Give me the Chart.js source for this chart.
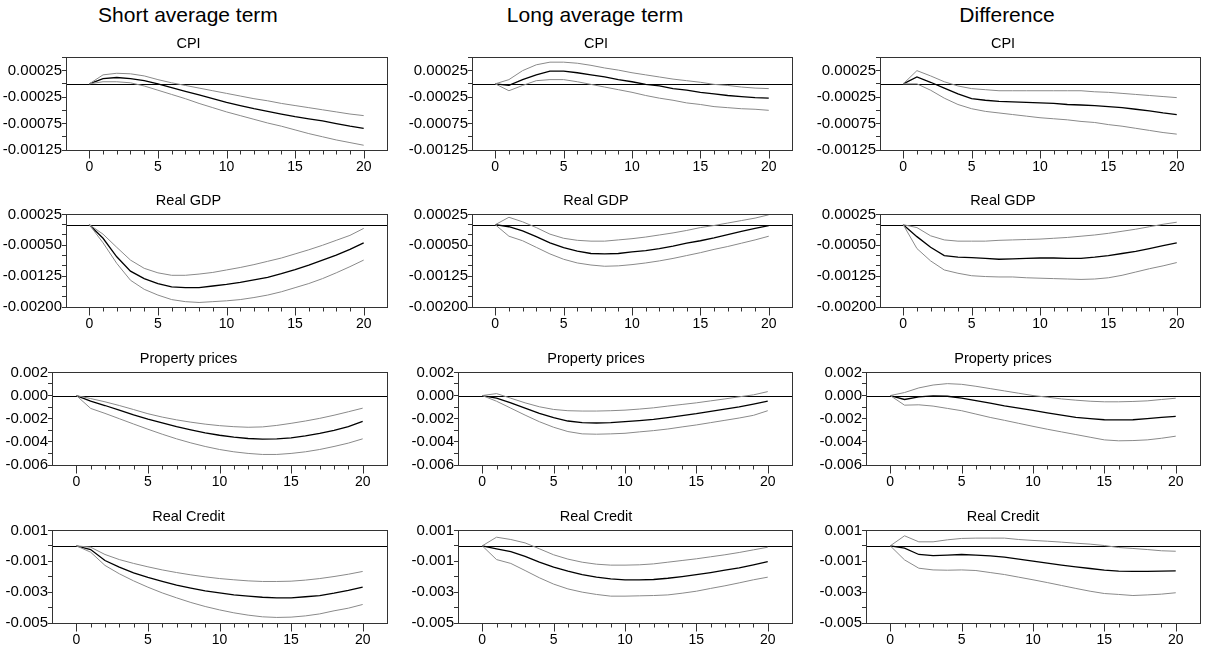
<!DOCTYPE html>
<html>
<head>
    <meta charset="utf-8">
    <title>Impulse responses</title>
    <script src="https://cdn.jsdelivr.net/npm/chart.js@4.4.1/dist/chart.umd.min.js"></script>
    <style>
        body { margin: 0; background: #fff; width: 1206px; height: 651px; position: relative; overflow: hidden; }
        .head { position: absolute; top: 3px; width: 400px; text-align: center; font: 21px "Liberation Sans", Arial, sans-serif; line-height: 24px; color: #000; }
        .panel { position: absolute; }
    </style>
</head>
<body>
<script>
// horizons and titles
const horizon = [0, 1, 2, 3, 4, 5, 6, 7, 8, 9, 10, 11, 12, 13, 14, 15, 16, 17, 18, 19, 20];
const colTitles = ['Short average term', 'Long average term', 'Difference'];
const rowTitles = ['CPI', 'Real GDP', 'Property prices', 'Real Credit'];

// y axes, one per row
const yMin = [-0.00125, -0.002, -0.006, -0.005];
const yMax = [0.0005, 0.00025, 0.002, 0.001];
const yStep = [0.00025, 0.00025, 0.001, 0.001];
const yLabelEvery = [2, 3, 2, 2];
const yDecimals = [5, 5, 3, 3];

// CPI
const shortCpi   = [0, 0.00010, 0.00012, 0.00010, 0.00006, 0.00000, -0.00007, -0.00014, -0.00021, -0.00028, -0.00035, -0.00041, -0.00047, -0.00052, -0.00057, -0.00062, -0.00066, -0.00070, -0.00075, -0.00080, -0.00084];
const shortCpiHi = [0, 0.00017, 0.00020, 0.00019, 0.00015, 0.00008, 0.00002, -0.00003, -0.00008, -0.00013, -0.00018, -0.00023, -0.00028, -0.00032, -0.00037, -0.00041, -0.00045, -0.00049, -0.00053, -0.00057, -0.00060];
const shortCpiLo = [0, 0.00004, 0.00004, 0.00002, -0.00004, -0.00012, -0.00020, -0.00028, -0.00037, -0.00045, -0.00053, -0.00060, -0.00067, -0.00074, -0.00080, -0.00087, -0.00094, -0.00100, -0.00106, -0.00111, -0.00116];
const longCpi    = [0, -0.00003, 0.00008, 0.00017, 0.00024, 0.00024, 0.00021, 0.00017, 0.00013, 0.00008, 0.00004, -0.00001, -0.00004, -0.00009, -0.00012, -0.00016, -0.00019, -0.00022, -0.00024, -0.00026, -0.00027];
const longCpiHi  = [0, 0.00008, 0.00025, 0.00036, 0.00041, 0.00041, 0.00039, 0.00035, 0.00030, 0.00026, 0.00021, 0.00017, 0.00013, 0.00009, 0.00006, 0.00003, -0.00001, -0.00003, -0.00006, -0.00008, -0.00009];
const longCpiLo  = [0, -0.00013, -0.00003, 0.00006, 0.00008, 0.00008, 0.00004, -0.00001, -0.00006, -0.00011, -0.00016, -0.00022, -0.00027, -0.00031, -0.00036, -0.00039, -0.00043, -0.00045, -0.00047, -0.00048, -0.00050];
const diffCpi    = [0, 0.00013, 0.00003, -0.00008, -0.00019, -0.00028, -0.00031, -0.00033, -0.00034, -0.00035, -0.00036, -0.00037, -0.00039, -0.00040, -0.00041, -0.00043, -0.00045, -0.00048, -0.00051, -0.00055, -0.00058];
const diffCpiHi  = [0, 0.00025, 0.00015, 0.00004, -0.00004, -0.00009, -0.00011, -0.00013, -0.00013, -0.00013, -0.00013, -0.00013, -0.00013, -0.00013, -0.00015, -0.00016, -0.00018, -0.00020, -0.00022, -0.00024, -0.00026];
const diffCpiLo  = [0, 0.00000, -0.00012, -0.00027, -0.00039, -0.00047, -0.00052, -0.00055, -0.00058, -0.00061, -0.00064, -0.00066, -0.00068, -0.00071, -0.00073, -0.00077, -0.00080, -0.00084, -0.00088, -0.00092, -0.00095];

// Real GDP
const shortGdp   = [0, -0.00033, -0.00078, -0.00113, -0.00131, -0.00143, -0.00151, -0.00153, -0.00153, -0.00149, -0.00145, -0.00140, -0.00134, -0.00128, -0.00119, -0.00109, -0.00098, -0.00086, -0.00074, -0.00060, -0.00044];
const shortGdpHi = [0, -0.00023, -0.00055, -0.00086, -0.00106, -0.00117, -0.00123, -0.00123, -0.00120, -0.00116, -0.00110, -0.00104, -0.00097, -0.00089, -0.00081, -0.00071, -0.00061, -0.00050, -0.00038, -0.00026, -0.00009];
const shortGdpLo = [0, -0.00044, -0.00094, -0.00135, -0.00157, -0.00171, -0.00182, -0.00187, -0.00189, -0.00187, -0.00185, -0.00182, -0.00177, -0.00171, -0.00163, -0.00153, -0.00143, -0.00131, -0.00117, -0.00102, -0.00086];
const longGdp    = [0, -0.00005, -0.00015, -0.00029, -0.00044, -0.00056, -0.00064, -0.00070, -0.00071, -0.00070, -0.00066, -0.00063, -0.00058, -0.00052, -0.00045, -0.00039, -0.00032, -0.00024, -0.00016, -0.00009, -0.00002];
const longGdpHi  = [0, 0.00018, 0.00007, -0.00007, -0.00023, -0.00033, -0.00038, -0.00040, -0.00040, -0.00037, -0.00034, -0.00030, -0.00025, -0.00020, -0.00014, -0.00007, -0.00002, 0.00004, 0.00010, 0.00016, 0.00024];
const longGdpLo  = [0, -0.00028, -0.00039, -0.00055, -0.00071, -0.00084, -0.00093, -0.00098, -0.00101, -0.00100, -0.00097, -0.00093, -0.00088, -0.00082, -0.00075, -0.00068, -0.00060, -0.00053, -0.00045, -0.00037, -0.00028];
const diffGdp    = [0, -0.00029, -0.00055, -0.00075, -0.00079, -0.00080, -0.00082, -0.00084, -0.00083, -0.00082, -0.00081, -0.00081, -0.00082, -0.00082, -0.00079, -0.00075, -0.00070, -0.00065, -0.00058, -0.00051, -0.00044];
const diffGdpHi  = [0, -0.00007, -0.00027, -0.00037, -0.00040, -0.00040, -0.00040, -0.00038, -0.00037, -0.00036, -0.00035, -0.00033, -0.00031, -0.00028, -0.00025, -0.00021, -0.00016, -0.00011, -0.00005, 0.00001, 0.00006];
const diffGdpLo  = [0, -0.00058, -0.00088, -0.00110, -0.00118, -0.00124, -0.00126, -0.00127, -0.00127, -0.00129, -0.00130, -0.00131, -0.00132, -0.00133, -0.00132, -0.00129, -0.00123, -0.00115, -0.00107, -0.00100, -0.00092];

// Property prices
const shortProp   = [0, -0.00049, -0.00086, -0.00126, -0.00166, -0.00203, -0.00237, -0.00269, -0.00297, -0.00323, -0.00343, -0.00360, -0.00371, -0.00377, -0.00374, -0.00366, -0.00349, -0.00326, -0.00300, -0.00269, -0.00223];
const shortPropHi = [0, -0.00026, -0.00054, -0.00086, -0.00121, -0.00157, -0.00186, -0.00210, -0.00230, -0.00247, -0.00260, -0.00269, -0.00274, -0.00271, -0.00258, -0.00240, -0.00220, -0.00197, -0.00170, -0.00140, -0.00109];
const shortPropLo = [0, -0.00111, -0.00154, -0.00200, -0.00246, -0.00291, -0.00334, -0.00374, -0.00409, -0.00440, -0.00466, -0.00486, -0.00500, -0.00509, -0.00509, -0.00500, -0.00486, -0.00466, -0.00440, -0.00411, -0.00374];
const longProp    = [0, -0.00023, -0.00063, -0.00109, -0.00154, -0.00191, -0.00220, -0.00234, -0.00237, -0.00234, -0.00226, -0.00217, -0.00206, -0.00191, -0.00174, -0.00157, -0.00137, -0.00117, -0.00097, -0.00074, -0.00049];
const longPropHi  = [0, 0.00017, -0.00023, -0.00063, -0.00097, -0.00120, -0.00131, -0.00134, -0.00134, -0.00131, -0.00126, -0.00117, -0.00106, -0.00091, -0.00077, -0.00063, -0.00046, -0.00029, -0.00011, 0.00006, 0.00034];
const longPropLo  = [0, -0.00049, -0.00109, -0.00169, -0.00226, -0.00274, -0.00311, -0.00331, -0.00334, -0.00331, -0.00326, -0.00314, -0.00303, -0.00289, -0.00271, -0.00254, -0.00234, -0.00214, -0.00194, -0.00171, -0.00131];
const diffProp    = [0, -0.00034, -0.00011, -0.00003, -0.00006, -0.00023, -0.00043, -0.00066, -0.00089, -0.00109, -0.00129, -0.00149, -0.00169, -0.00189, -0.00200, -0.00209, -0.00211, -0.00209, -0.00200, -0.00189, -0.00180];
const diffPropHi  = [0, 0.00026, 0.00066, 0.00091, 0.00103, 0.00097, 0.00080, 0.00060, 0.00040, 0.00020, 0.00000, -0.00014, -0.00029, -0.00040, -0.00049, -0.00054, -0.00054, -0.00051, -0.00046, -0.00034, -0.00023];
const diffPropLo  = [0, -0.00083, -0.00080, -0.00091, -0.00111, -0.00131, -0.00160, -0.00189, -0.00214, -0.00240, -0.00266, -0.00291, -0.00314, -0.00337, -0.00360, -0.00383, -0.00391, -0.00389, -0.00383, -0.00369, -0.00351];

// Real Credit
const shortCred   = [0, -0.00024, -0.00095, -0.00138, -0.00175, -0.00205, -0.00231, -0.00255, -0.00274, -0.00292, -0.00305, -0.00318, -0.00326, -0.00333, -0.00337, -0.00337, -0.00330, -0.00322, -0.00307, -0.00289, -0.00268];
const shortCredHi = [0, -0.00009, -0.00056, -0.00089, -0.00114, -0.00136, -0.00156, -0.00173, -0.00188, -0.00201, -0.00212, -0.00220, -0.00227, -0.00231, -0.00231, -0.00229, -0.00222, -0.00212, -0.00199, -0.00184, -0.00166];
const shortCredLo = [0, -0.00041, -0.00127, -0.00181, -0.00227, -0.00268, -0.00305, -0.00337, -0.00367, -0.00393, -0.00415, -0.00434, -0.00449, -0.00460, -0.00464, -0.00462, -0.00454, -0.00441, -0.00421, -0.00404, -0.00380];
const longCred    = [0, -0.00019, -0.00037, -0.00069, -0.00106, -0.00138, -0.00164, -0.00186, -0.00203, -0.00214, -0.00220, -0.00220, -0.00218, -0.00210, -0.00199, -0.00186, -0.00173, -0.00158, -0.00143, -0.00123, -0.00102];
const longCredHi  = [0, 0.00056, 0.00041, 0.00019, -0.00019, -0.00058, -0.00086, -0.00106, -0.00119, -0.00125, -0.00125, -0.00123, -0.00117, -0.00106, -0.00095, -0.00084, -0.00071, -0.00058, -0.00043, -0.00026, -0.00009];
const longCredLo  = [0, -0.00089, -0.00114, -0.00160, -0.00207, -0.00248, -0.00279, -0.00300, -0.00315, -0.00326, -0.00326, -0.00324, -0.00322, -0.00318, -0.00307, -0.00294, -0.00276, -0.00259, -0.00240, -0.00220, -0.00203];
const diffCred    = [0, -0.00015, -0.00056, -0.00063, -0.00060, -0.00056, -0.00060, -0.00065, -0.00073, -0.00086, -0.00099, -0.00112, -0.00125, -0.00136, -0.00147, -0.00158, -0.00164, -0.00166, -0.00166, -0.00164, -0.00162];
const diffCredHi  = [0, 0.00065, 0.00026, 0.00026, 0.00039, 0.00048, 0.00050, 0.00050, 0.00050, 0.00041, 0.00035, 0.00030, 0.00024, 0.00017, 0.00011, 0.00002, -0.00011, -0.00017, -0.00024, -0.00032, -0.00035];
const diffCredLo  = [0, -0.00091, -0.00145, -0.00156, -0.00158, -0.00156, -0.00160, -0.00173, -0.00186, -0.00203, -0.00220, -0.00238, -0.00257, -0.00276, -0.00294, -0.00309, -0.00315, -0.00322, -0.00318, -0.00313, -0.00304];

// [row][col] -> [estimate, upper, lower]
const panels = [
    [[shortCpi, shortCpiHi, shortCpiLo], [longCpi, longCpiHi, longCpiLo], [diffCpi, diffCpiHi, diffCpiLo]],
    [[shortGdp, shortGdpHi, shortGdpLo], [longGdp, longGdpHi, longGdpLo], [diffGdp, diffGdpHi, diffGdpLo]],
    [[shortProp, shortPropHi, shortPropLo], [longProp, longPropHi, longPropLo], [diffProp, diffPropHi, diffPropLo]],
    [[shortCred, shortCredHi, shortCredLo], [longCred, longCredHi, longCredLo], [diffCred, diffCredHi, diffCredLo]]
];

// layout
const colLeft = [-10, 400, 806];
const colHeadCenter = [188, 595, 1007];
const canvasW = 400;
const canvasH = 144;
const boxRight = [387, 792, 1200];
const boxLeftWide = [66, 472, 880];   // rows with 5 decimal labels
const boxLeftNarrow = [52, 458, 866]; // rows with 3 decimal labels
const boxTop = [57, 214, 372, 530];
const titleBlock = 25.4;
const FONT = '"Liberation Sans", Arial, sans-serif';

// frame, zero line, x tick marks (major long / minor short)
const framePlugin = {
    id: 'frame',
    beforeDatasetsDraw(chart) {
        const ctx = chart.ctx, a = chart.chartArea, y = chart.scales.y;
        const zy = Math.round(y.getPixelForValue(0)) + 0.5;
        ctx.save();
        ctx.strokeStyle = '#000';
        ctx.lineWidth = 1;
        ctx.beginPath();
        ctx.moveTo(a.left, zy);
        ctx.lineTo(a.right, zy);
        ctx.stroke();
        ctx.restore();
    },
    afterDraw(chart) {
        const ctx = chart.ctx, a = chart.chartArea, x = chart.scales.x;
        ctx.save();
        ctx.strokeStyle = '#333';
        ctx.lineWidth = 1;
        const l = Math.round(a.left) + 0.5, t = Math.round(a.top) + 0.5;
        const r = Math.round(a.right) + 0.5, b = Math.round(a.bottom) + 0.5;
        ctx.strokeRect(l, t, r - l, b - t);
        ctx.beginPath();
        x.ticks.forEach(tk => {
            const px = Math.round(x.getPixelForValue(tk.value)) + 0.5;
            const len = tk.value % 5 === 0 ? 8 : 4;
            ctx.moveTo(px, b);
            ctx.lineTo(px, b + len);
        });
        ctx.stroke();
        ctx.restore();
    }
};

function pts(arr) {
    return arr.map((v, i) => ({x: horizon[i], y: v}));
}

function addHeads() {
    colTitles.forEach((t, c) => {
        const d = document.createElement('div');
        d.className = 'head';
        d.style.left = (colHeadCenter[c] - 200) + 'px';
        d.textContent = t;
        document.body.appendChild(d);
    });
}

function makePanel(r, c) {
    const cv = document.createElement('canvas');
    cv.className = 'panel';
    cv.width = canvasW;
    cv.height = canvasH;
    cv.style.left = colLeft[c] + 'px';
    cv.style.top = (boxTop[r] - titleBlock) + 'px';
    cv.style.width = canvasW + 'px';
    cv.style.height = canvasH + 'px';
    document.body.appendChild(cv);

    const boxLeft = r < 2 ? boxLeftWide[c] : boxLeftNarrow[c];
    const axisW = boxLeft - colLeft[c];
    const padRight = colLeft[c] + canvasW - boxRight[c];
    const set = panels[r][c];

    new Chart(cv, {
        type: 'line',
        data: {
            datasets: [
                {data: pts(set[1]), borderColor: '#8a8a8a', borderWidth: 1},
                {data: pts(set[2]), borderColor: '#8a8a8a', borderWidth: 1},
                {data: pts(set[0]), borderColor: '#000', borderWidth: 1.3}
            ]
        },
        options: {
            responsive: false,
            animation: false,
            layout: {padding: {top: 0, bottom: 0, left: 0, right: padRight}},
            elements: {point: {radius: 0}, line: {tension: 0}},
            plugins: {
                legend: {display: false},
                tooltip: {enabled: false},
                title: {
                    display: true,
                    text: rowTitles[r],
                    color: '#000',
                    font: {family: FONT, size: 14.5, weight: 'normal', lineHeight: 1.2},
                    padding: {top: 3, bottom: 5}
                }
            },
            scales: {
                x: {
                    type: 'linear',
                    min: -1.7,
                    max: 21.7,
                    border: {display: false},
                    grid: {display: false, drawTicks: false},
                    ticks: {
                        stepSize: 1,
                        autoSkip: false,
                        maxRotation: 0,
                        includeBounds: false,
                        padding: 9,
                        color: '#000',
                        font: {family: FONT, size: 14},
                        callback: v => (v % 5 === 0 ? String(v) : '')
                    },
                    afterBuildTicks: s => { s.ticks = s.ticks.filter(t => t.value >= 0 && t.value <= 20); },
                    afterFit: s => { s.height = 26; }
                },
                y: {
                    min: yMin[r],
                    max: yMax[r],
                    border: {display: false},
                    grid: {drawOnChartArea: false, drawTicks: true, tickLength: 4, tickColor: '#333'},
                    ticks: {
                        stepSize: yStep[r],
                        autoSkip: false,
                        padding: 0,
                        color: '#000',
                        font: {family: FONT, size: 15},
                        callback: (v, i) => (i % yLabelEvery[r] === 0 ? v.toFixed(yDecimals[r]) : '')
                    },
                    afterFit: s => { s.width = axisW; }
                }
            }
        },
        plugins: [framePlugin]
    });
}

addHeads();
for (let r = 0; r < 4; r++) {
    for (let c = 0; c < 3; c++) {
        makePanel(r, c);
    }
}
</script>
</body>
</html>
